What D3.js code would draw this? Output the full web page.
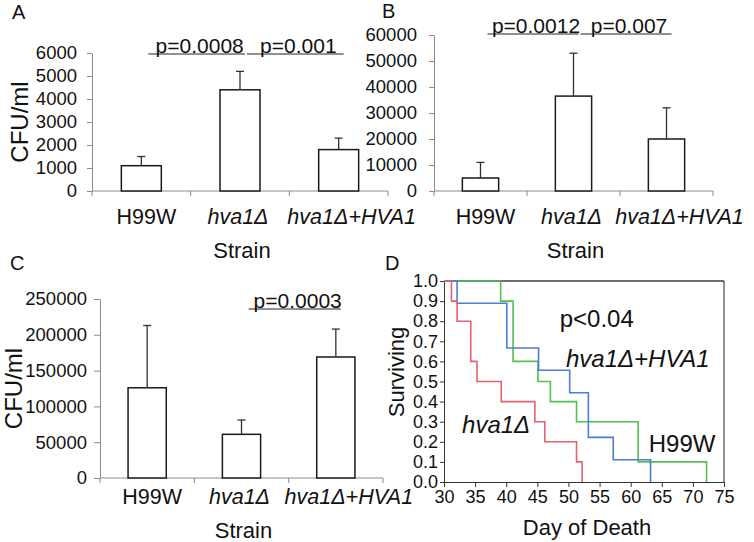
<!DOCTYPE html>
<html>
<head>
<meta charset="utf-8">
<title>hva1 CFU and survival</title>
<script src="https://d3js.org/d3.v7.min.js"></script>
<style>
  body { margin: 0; background: #fff; font-family: "Liberation Sans", Arial, sans-serif; }
  svg text { fill: #111; }
</style>
</head>
<body>
<div id="fig"></div>
<script>
// strains shown on the x axis of panels A-C
var strains = ["H99W", "hva1Δ", "hva1Δ+HVA1"];

// panel A
var cfuA = [1100, 4400, 1800];
var errA = [400, 800, 500];
var ticksA = [0, 1000, 2000, 3000, 4000, 5000, 6000];
var pvalsA = [[0, 1, "p=0.0008"], [1, 2, "p=0.001"]];

// panel B
var cfuB = [5000, 36500, 20000];
var errB = [6000, 16500, 12000];
var ticksB = [0, 10000, 20000, 30000, 40000, 50000, 60000];
var pvalsB = [[0, 1, "p=0.0012"], [1, 2, "p=0.007"]];

// panel C
var cfuC = [126000, 61000, 169000];
var errC = [87000, 20000, 39000];
var ticksC = [0, 50000, 100000, 150000, 200000, 250000];
var pvalsC = [[1, 2, "p=0.0003"]];

// panel D, Kaplan-Meier steps (day, fraction surviving)
var daysRed = [30, 31.2, 32.1, 34.3, 35.3, 39.2, 44.6, 46.2, 51.3, 52.2];
var survRed = [1.0, 0.9, 0.8, 0.6, 0.5, 0.4, 0.3, 0.2, 0.1, 0.0];
var daysBlue = [30, 32.1, 40.1, 45.2, 50.2, 53.2, 57.2, 63.2];
var survBlue = [1.0, 0.889, 0.667, 0.556, 0.444, 0.222, 0.111, 0.0];
var daysGreen = [30, 39.1, 41.1, 45.1, 47.1, 51.3, 61.2, 72.2];
var survGreen = [1.0, 0.9, 0.6, 0.5, 0.4, 0.3, 0.1, 0.0];
var dayTicks = [30, 35, 40, 45, 50, 55, 60, 65, 70, 75];
var survTicks = [0, 0.1, 0.2, 0.3, 0.4, 0.5, 0.6, 0.7, 0.8, 0.9, 1.0];

var svg = d3.select("#fig").append("svg")
  .attr("width", 754)
  .attr("height", 542);

function isItalic(s) { return s.indexOf("hva") === 0; }

function barPanel(p) {
  var g = svg.append("g");
  var x = d3.scaleBand().domain(strains).range([p.left, p.right]);
  var y = d3.scaleLinear().domain([0, d3.max(p.ticks)]).range([p.bottom, p.top]);
  var bw = x.bandwidth() * p.barFrac;
  var cx = function(i) { return x(strains[i]) + x.bandwidth() / 2; };

  // y axis
  var ya = g.append("g")
    .attr("transform", "translate(" + p.left + ",0)")
    .call(d3.axisLeft(y).tickValues(p.ticks).tickSize(p.tick).tickSizeOuter(0)
      .tickPadding(p.pad).tickFormat(d3.format("d")));
  ya.attr("font-family", null).attr("font-size", null);
  ya.selectAll("path, line").attr("stroke", "#8c8c8c");
  ya.selectAll("text").style("font-size", "18.5px").attr("fill", "#111");

  // x axis, ticks at the band edges
  var edges = strains.map(function(s) { return x(s); }).concat([p.right]);
  g.append("line")
    .attr("x1", p.left).attr("x2", p.right)
    .attr("y1", p.bottom).attr("y2", p.bottom)
    .attr("stroke", "#8c8c8c");
  g.selectAll(".xt").data(edges).enter().append("line")
    .attr("x1", function(d) { return d; }).attr("x2", function(d) { return d; })
    .attr("y1", p.bottom).attr("y2", p.bottom + 5)
    .attr("stroke", "#8c8c8c");

  // bars
  g.selectAll(".bar").data(p.values).enter().append("rect")
    .attr("x", function(d, i) { return cx(i) - bw / 2; })
    .attr("y", function(d) { return y(d); })
    .attr("width", bw)
    .attr("height", function(d) { return p.bottom - y(d); })
    .attr("fill", "#fff")
    .attr("stroke", "#1a1a1a")
    .attr("stroke-width", 1.5);

  // error bars (upper only)
  p.values.forEach(function(v, i) {
    var top = y(v + p.errors[i]);
    g.append("line")
      .attr("x1", cx(i)).attr("x2", cx(i))
      .attr("y1", y(v)).attr("y2", top)
      .attr("stroke", "#333").attr("stroke-width", 1.3);
    g.append("line")
      .attr("x1", cx(i) - 4).attr("x2", cx(i) + 4)
      .attr("y1", top).attr("y2", top)
      .attr("stroke", "#333").attr("stroke-width", 1.3);
  });

  // strain labels
  var dxs = [5, -2, 13];
  strains.forEach(function(s, i) {
    g.append("text")
      .attr("x", cx(i) + dxs[i])
      .attr("y", p.labY)
      .attr("text-anchor", "middle")
      .style("font-size", "21.5px")
      .style("font-style", isItalic(s) ? "italic" : "normal")
      .text(s);
  });
  g.append("text")
    .attr("x", x(strains[1]) + x.bandwidth() / 2 + 2)
    .attr("y", p.strainY)
    .attr("text-anchor", "middle")
    .style("font-size", "22px")
    .text("Strain");

  // p values with their lines
  p.pvals.forEach(function(pv) {
    var x1 = cx(pv[0]) + 7, x2 = cx(pv[1]) + 5;
    g.append("line")
      .attr("x1", x1).attr("x2", x2)
      .attr("y1", p.pY).attr("y2", p.pY)
      .attr("stroke", "#222").attr("stroke-width", 1);
    g.append("text")
      .attr("x", (x1 + x2) / 2 + 3)
      .attr("y", p.pY - 1)
      .attr("text-anchor", "middle")
      .style("font-size", "21px")
      .text(pv[2]);
  });

  if (p.ylabel) {
    g.append("text")
      .attr("transform", "translate(" + p.ylabelX + "," + (p.top + p.bottom) / 2 + ") rotate(-90)")
      .attr("text-anchor", "middle")
      .style("font-size", "24px")
      .text(p.ylabel);
  }

  svg.append("text")
    .attr("x", p.letterX).attr("y", p.letterY)
    .style("font-size", "20px")
    .text(p.letter);
}

barPanel({ values: cfuA, errors: errA, ticks: ticksA, pvals: pvalsA,
  left: 92, right: 388, top: 53, bottom: 191, barFrac: 0.405, tick: 5, pad: 10,
  pY: 54, labY: 224, strainY: 258,
  ylabel: "CFU/ml", ylabelX: 28, letter: "A", letterX: 12, letterY: 19 });

barPanel({ values: cfuB, errors: errB, ticks: ticksB, pvals: pvalsB,
  left: 434, right: 713, top: 35, bottom: 191, barFrac: 0.39, tick: 5, pad: 12,
  pY: 34, labY: 224, strainY: 258,
  letter: "B", letterX: 382, letterY: 18 });

barPanel({ values: cfuC, errors: errC, ticks: ticksC, pvals: pvalsC,
  left: 100, right: 383, top: 299, bottom: 478, barFrac: 0.405, tick: 6, pad: 7,
  pY: 309, labY: 504, strainY: 538,
  ylabel: "CFU/ml", ylabelX: 22, letter: "C", letterX: 10, letterY: 270 });

// ---- panel D: survival ----
var xD = d3.scaleLinear().domain([30, 75]).range([444, 724]);
var yD = d3.scaleLinear().domain([0, 1]).range([482, 281]);
var gD = svg.append("g");

var xa = gD.append("g").attr("transform", "translate(0,482)")
  .call(d3.axisBottom(xD).tickValues(dayTicks).tickSize(5).tickSizeOuter(0).tickPadding(3));
var yaD = gD.append("g").attr("transform", "translate(444,0)")
  .call(d3.axisLeft(yD).tickValues(survTicks).tickSize(4).tickSizeOuter(0).tickPadding(2)
    .tickFormat(d3.format(".1f")));
[xa, yaD].forEach(function(a) {
  a.attr("font-family", null).attr("font-size", null);
  a.selectAll("path, line").attr("stroke", "#333");
  a.selectAll("text").style("font-size", "18px").attr("fill", "#111");
});

// box top and right
gD.append("line").attr("x1", xD(30)).attr("x2", xD(75)).attr("y1", yD(1)).attr("y2", yD(1))
  .attr("stroke", "#6e6e6e").attr("stroke-width", 2);
gD.append("line").attr("x1", xD(75)).attr("x2", xD(75)).attr("y1", yD(1)).attr("y2", yD(0))
  .attr("stroke", "#222");

var step = d3.line()
  .x(function(d) { return xD(d[0]); })
  .y(function(d) { return yD(d[1]); })
  .curve(d3.curveStepAfter);

[[daysGreen, survGreen, "#53bf55"], [daysBlue, survBlue, "#4b7ed8"], [daysRed, survRed, "#e8606f"]]
  .forEach(function(s) {
    gD.append("path")
      .datum(d3.zip(s[0], s[1]))
      .attr("d", step)
      .attr("fill", "none")
      .attr("stroke", s[2])
      .attr("stroke-width", 1.6);
  });

// labels inside the survival plot
var notes = [
  [48.6, 0.77, "p<0.04", false],
  [49.6, 0.57, "hva1Δ+HVA1", true],
  [32.9, 0.245, "hva1Δ", true],
  [62.9, 0.15, "H99W", false]
];
notes.forEach(function(n) {
  gD.append("text")
    .attr("x", xD(n[0])).attr("y", yD(n[1]))
    .style("font-size", "24px")
    .style("font-style", n[3] ? "italic" : "normal")
    .text(n[2]);
});

gD.append("text")
  .attr("transform", "translate(404,372) rotate(-90)")
  .attr("text-anchor", "middle")
  .style("font-size", "22px")
  .text("Surviving");
gD.append("text")
  .attr("x", 587).attr("y", 535)
  .attr("text-anchor", "middle")
  .style("font-size", "22px")
  .text("Day of Death");
svg.append("text").attr("x", 385).attr("y", 270).style("font-size", "20px").text("D");
</script>
</body>
</html>
